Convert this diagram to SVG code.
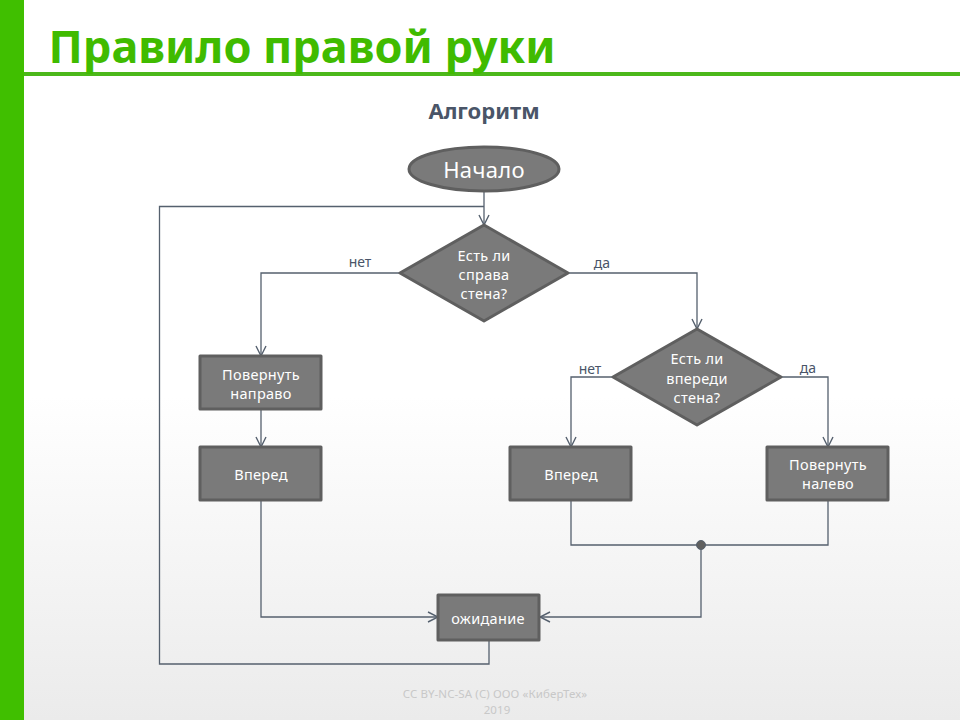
<svg xmlns="http://www.w3.org/2000/svg" width="960" height="720" viewBox="0 0 960 720">
<style>
text{font-family:"Noto Sans","DejaVu Sans",sans-serif;text-anchor:middle}
.n{fill:#7a7a7a;stroke:#5f5f5f;stroke-width:3;stroke-linejoin:round}
.t{fill:#fff;font-size:14.5px;letter-spacing:.3px}
.l{fill:#4a5568;font-size:14px}
.c{fill:none;stroke:#55606e;stroke-width:1.3}
.f{font-size:11.5px;letter-spacing:.1px;fill:#c8c8c8}
</style>
<defs>
<linearGradient id="bg" x1="0" y1="0" x2="0" y2="1"><stop offset="0.55" stop-color="#fff"/><stop offset="1" stop-color="#ebebeb"/></linearGradient>
<marker id="a" viewBox="0 0 14 14" refX="13" refY="7" markerWidth="14" markerHeight="14" markerUnits="userSpaceOnUse" orient="auto"><path d="M3 2L13 7L3 12" fill="none" stroke="#55606e" stroke-width="1.4"/></marker>
</defs>
<rect width="960" height="720" fill="url(#bg)"/>
<rect x="0" y="0" width="24" height="720" fill="#40bf00"/>
<rect x="24" y="72" width="936" height="4" fill="#4cb81a"/>
<text id="title" x="302" y="63" style="font-size:45px;font-weight:700;fill:#40bb00">Правило правой руки</text>
<text id="subtitle" x="484" y="119" style="font-size:22px;font-weight:700;fill:#4a5568">Алгоритм</text>
<g id="connectors">
<path class="c" d="M484 191V225" marker-end="url(#a)"/>
<path class="c" d="M489 640V664H159.500V206.500H484"/>
<path class="c" d="M400 273H261V356" marker-end="url(#a)"/>
<path class="c" d="M568 273H697V329" marker-end="url(#a)"/>
<path class="c" d="M261 409V447" marker-end="url(#a)"/>
<path class="c" d="M613 377H571V447" marker-end="url(#a)"/>
<path class="c" d="M781 377H828V447" marker-end="url(#a)"/>
<path class="c" d="M571 500V545H828V500"/>
<path class="c" d="M701 545V617H540" marker-end="url(#a)"/>
<path class="c" d="M261 500V617H438" marker-end="url(#a)"/>
<circle cx="701" cy="545" r="4.500" fill="#5f5f5f" stroke="#55606e"/>
</g>
<g id="start"><ellipse class="n" cx="484" cy="169" rx="75" ry="22"/><text class="t" x="484" y="178" style="font-size:22px">Начало</text></g>
<g id="d1"><polygon class="n" points="484,225 568,273 484,321 400,273"/><text class="t" x="484" y="261">Есть ли</text><text class="t" x="484" y="280">справа</text><text class="t" x="484" y="299">стена?</text></g>
<g id="d2"><polygon class="n" points="697,329 781,377 697,425 613,377"/><text class="t" x="697" y="364">Есть ли</text><text class="t" x="697" y="383.500">впереди</text><text class="t" x="697" y="403">стена?</text></g>
<g id="r1"><rect class="n" x="200" y="356" width="121" height="53"/><text class="t" x="261" y="380">Повернуть</text><text class="t" x="261" y="399">направо</text></g>
<g id="f1"><rect class="n" x="200" y="447" width="121" height="53"/><text class="t" x="261" y="480">Вперед</text></g>
<g id="f2"><rect class="n" x="510" y="447" width="121" height="53"/><text class="t" x="571" y="480">Вперед</text></g>
<g id="l1"><rect class="n" x="767" y="447" width="121" height="53"/><text class="t" x="828" y="470">Повернуть</text><text class="t" x="828" y="489">налево</text></g>
<g id="w"><rect class="n" x="438" y="595" width="101" height="45"/><text class="t" x="488" y="624">ожидание</text></g>
<g id="labels">
<text class="l" x="360" y="267">нет</text><text class="l" x="602" y="268">да</text><text class="l" x="590" y="374">нет</text><text class="l" x="808" y="373">да</text>
</g>
<text id="footer" class="f" x="495" y="698">CC BY-NC-SA (C) ООО «КиберТех»</text>
<text id="footer2" class="f" x="497" y="714">2019</text>
</svg>
